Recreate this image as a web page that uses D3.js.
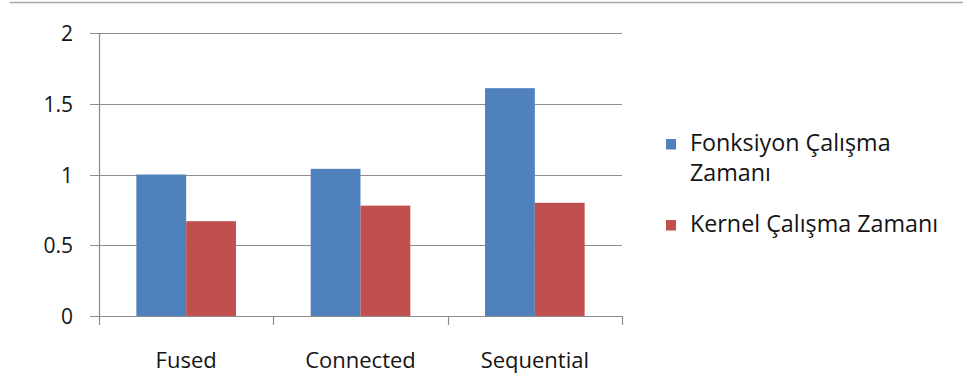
<!DOCTYPE html>
<html>
<head>
<meta charset="utf-8">
<script src="https://cdn.jsdelivr.net/npm/d3@7"></script>
<style>
  html, body { margin: 0; padding: 0; background: #fff; }
  svg { display: block; font-family: "Open Sans", "Noto Sans", sans-serif; }
</style>
</head>
<body>
<svg id="chart" width="963" height="380"></svg>
<script>
// Execution times per build variant
const categories = ["Fused", "Connected", "Sequential"];
const seriesNames = ["Fonksiyon Çalışma Zamanı", "Kernel Çalışma Zamanı"];
const functionTimes = [1.00, 1.04, 1.61];
const kernelTimes = [0.67, 0.78, 0.80];
const yTicks = [0, 0.5, 1, 1.5, 2];
const colors = ["#4F81BD", "#C0504D"];

const svg = d3.select("#chart");
const textColor = "#141414";

const plot = { left: 99, right: 622, top: 33, bottom: 316 };

const x = d3.scaleBand().domain(categories).range([plot.left, plot.right]).padding(0);
// Excel-style gap width of 150%: bars are band / 3.5 wide
const xs = d3.scaleBand().domain([0, 1]).range([0, x.bandwidth()])
  .paddingInner(0).paddingOuter(0.75);
const y = d3.scaleLinear().domain([0, 2]).range([plot.bottom, plot.top]);

// outer frame edge along the top
svg.append("line")
  .attr("x1", 10).attr("x2", 963).attr("y1", 2.5).attr("y2", 2.5)
  .attr("stroke", "#a8a8a8").attr("stroke-width", 1.5);

// horizontal gridlines (extend left past the axis as tick marks)
svg.append("g").selectAll("line").data(yTicks).join("line")
  .attr("x1", plot.left - 9).attr("x2", plot.right)
  .attr("y1", d => Math.round(y(d)) + 0.5).attr("y2", d => Math.round(y(d)) + 0.5)
  .attr("stroke", "#8c8c8c").attr("stroke-width", 1.2);

// bars
const rows = categories.map((c, i) => ({ c, vals: [functionTimes[i], kernelTimes[i]] }));
const groups = svg.append("g").selectAll("g").data(rows).join("g")
  .attr("transform", d => `translate(${x(d.c)},0)`);
groups.selectAll("rect").data(d => d.vals.map((v, k) => ({ v, k }))).join("rect")
  .attr("x", d => xs(d.k))
  .attr("width", xs.bandwidth())
  .attr("y", d => y(d.v))
  .attr("height", d => y(0) - y(d.v))
  .attr("fill", d => colors[d.k]);

// y axis labels
const yAxis = d3.axisLeft(y).tickValues(yTicks).tickSize(0).tickPadding(0)
  .tickFormat(d => String(d));
const gy = svg.append("g").attr("transform", `translate(${plot.left - 26},0)`).call(yAxis);
gy.select(".domain").remove();
gy.selectAll("text")
  .attr("font-family", "'Open Sans', sans-serif")
  .attr("font-size", 21).attr("fill", textColor).attr("dy", "0.36em");

// vertical axis line
svg.append("line")
  .attr("x1", plot.left + 0.5).attr("x2", plot.left + 0.5)
  .attr("y1", plot.top).attr("y2", plot.bottom + 9)
  .attr("stroke", "#8c8c8c").attr("stroke-width", 1.2);

// category boundary ticks below the axis
const bounds = categories.map(c => x(c)).concat([plot.right]);
svg.append("g").selectAll("line").data(bounds.slice(1)).join("line")
  .attr("x1", d => Math.round(d) + 0.5).attr("x2", d => Math.round(d) + 0.5)
  .attr("y1", plot.bottom).attr("y2", plot.bottom + 9)
  .attr("stroke", "#8c8c8c").attr("stroke-width", 1.2);

// category labels
svg.append("g").selectAll("text").data(categories).join("text")
  .attr("x", d => x(d) + x.bandwidth() / 2)
  .attr("y", 368)
  .attr("text-anchor", "middle")
  .attr("font-size", 22).attr("fill", textColor)
  .text(d => d);

// legend
const legend = svg.append("g");
const legendRows = [
  { lines: ["Fonksiyon Çalışma", "Zamanı"], y: 151, color: colors[0] },
  { lines: ["Kernel Çalışma Zamanı"], y: 232, color: colors[1] }
];
legendRows.forEach(r => {
  legend.append("rect")
    .attr("x", 666).attr("y", r.y - 12).attr("width", 10).attr("height", 10.5)
    .attr("fill", r.color);
  const t = legend.append("text")
    .attr("x", 690).attr("y", r.y)
    .attr("font-size", 23.3).attr("fill", textColor);
  r.lines.forEach((ln, i) => {
    t.append("tspan").attr("x", 690).attr("dy", i === 0 ? 0 : 30).text(ln);
  });
});
</script>
</body>
</html>
